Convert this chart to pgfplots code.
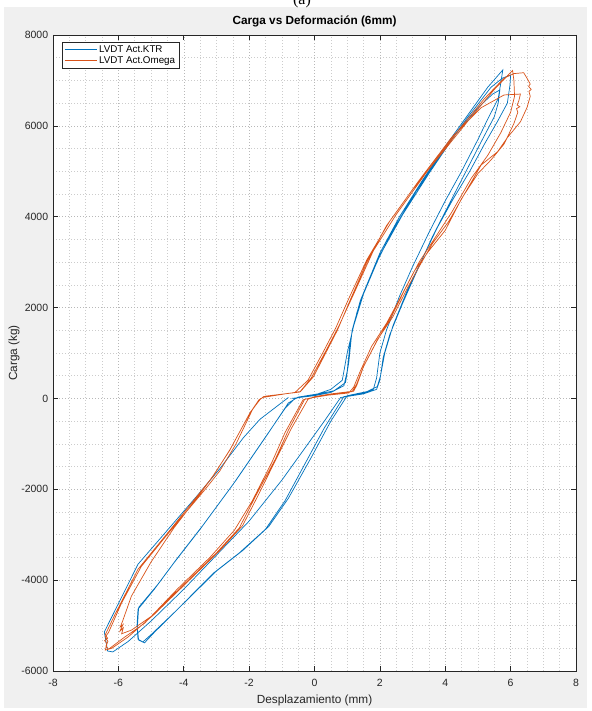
\documentclass[border=0pt]{standalone}
\usepackage{fontspec}
\setmainfont{Liberation Sans}
\newfontfamily\capfont{Liberation Serif}
\usepackage{pgfplots}
\pgfplotsset{compat=1.18}
\definecolor{ktr}{RGB}{0,114,189}
\definecolor{omega}{RGB}{217,83,25}
\definecolor{axgray}{RGB}{38,38,38}
\definecolor{figbg}{RGB}{240,240,240}

\begin{document}
\begin{tikzpicture}[x=1pt,y=1pt]
% figure canvas
\fill[white] (0,0) rectangle (591,711);
\fill[figbg] (4,3) rectangle (587,704);
\node[font=\capfont\fontsize{16}{18}\selectfont, anchor=base, inner sep=0pt] at (302,706.5) {(a)};
\begin{axis}[
  at={(53pt,40pt)}, anchor=south west,
  scale only axis, width=523pt, height=636pt,
  xmin=-8, xmax=8, ymin=-6000, ymax=8000,
  xtick={-8,-6,...,8}, ytick={-6000,-4000,...,8000},
  minor x tick num=3, minor y tick num=3,
  grid=both,
  major grid style={black!28, dash pattern=on 1pt off 2pt, line width=0.5pt},
  minor grid style={black!20, dash pattern=on 1pt off 2pt, line width=0.5pt},
  tick align=inside, major tick length=5pt, minor tick length=0pt,
  axis line style={axgray, line width=0.6pt},
  tick style={axgray, line width=0.6pt},
  axis background/.style={fill=white},
  scaled y ticks=false, scaled x ticks=false,
  /pgf/number format/assume math mode=true,
  /pgf/number format/1000 sep={},
  ticklabel style={font=\fontsize{10.5}{12}\selectfont, text=axgray},
  xticklabel style={anchor=base, yshift=-16pt},
  yticklabel style={anchor=east, xshift=-1.3pt},
  title={Carga vs Deformación (6mm)},
  title style={font=\bfseries\fontsize{11.8}{13}\selectfont, text=black, at={(rel axis cs:0.5,1)}, anchor=base, yshift=4pt},
  xlabel={Desplazamiento (mm)},
  xlabel style={font=\fontsize{11.8}{13}\selectfont, text=axgray, at={(rel axis cs:0.5,0)}, anchor=base, yshift=-32.5pt},
  ylabel={Carga (kg)},
  ylabel style={font=\fontsize{11.8}{13}\selectfont, text=axgray, at={(rel axis cs:0,0.5)}, anchor=center, yshift=39pt},
  legend style={at={(rel axis cs:0,1)}, anchor=north west, xshift=9pt, yshift=-7pt,
    draw=axgray, line width=0.5pt, fill=white, font=\fontsize{9.8}{11}\selectfont,
    inner xsep=2pt, inner ysep=1.5pt, row sep=-1.5pt},
  legend cell align=left,
  legend image code/.code={\draw[#1, line width=0.8pt] (0pt,0pt) -- (32pt,0pt);},
]
% LVDT Act.KTR
\addplot[ktr, line width=0.7pt] coordinates {
(-0.7,0) (0.0,60) (0.5,130) (0.9,280) (1.0,600) (1.1,1300) (1.3,1900) (1.6,2500) (2.0,3200) (2.6,4000) (3.3,4800) (4.0,5550) (4.7,6250) (5.3,6850) (5.76,7230)
(5.7,6950) (5.62,6600) (5.3,6150) (5.0,5700) (4.5,5000) (4.0,4350) (3.5,3650) (3.0,2900) (2.6,2250) (2.2,1500) (2.0,1000) (1.9,450) (1.8,200) (1.5,120) (1.2,80) (0.9,40)
(0.3,-650) (-0.3,-1450) (-0.9,-2250) (-1.5,-2880) (-2.3,-3400) (-3.1,-3850) (-4.2,-4650) (-5.0,-5200) (-5.25,-5360)
(-5.4,-5300) (-5.43,-5000) (-5.4,-4640) (-4.9,-4200) (-4.3,-3620) (-3.5,-2880) (-2.5,-1900) (-1.5,-850) (-0.9,-220) (-0.6,0)
(0.0,80) (0.6,170) (0.95,350) (1.05,800) (1.15,1500) (1.4,2150) (1.8,2850) (2.4,3700) (3.1,4550) (3.9,5400) (4.7,6200) (5.4,6850) (5.75,7050) (6.0,7120)
(5.98,6900) (5.9,6500) (5.6,6100) (5.2,5600) (4.75,5000) (4.25,4400) (3.75,3750) (3.25,3000) (2.85,2400) (2.4,1600) (2.15,1000) (2.02,500) (1.92,260) (1.6,150) (1.0,60)
(0.5,-500) (-0.1,-1300) (-0.8,-2200) (-1.4,-2820) (-2.2,-3350) (-3.0,-3800) (-4.1,-4580) (-4.9,-5150) (-5.2,-5380)
(-5.38,-5320) (-5.42,-5050) (-5.38,-4600) (-4.8,-4100) (-4.2,-3520) (-3.4,-2780) (-2.4,-1800) (-1.4,-750) (-0.8,-100) (-0.5,30)
(0.1,100) (0.5,200) (0.85,400) (1.0,1000) (1.2,1600) (1.5,2300) (2.0,3150) (2.7,4050) (3.5,4950) (4.3,5800) (5.0,6400) (5.45,6700) (5.67,6790)
(5.62,6500) (5.5,6200) (5.1,5650) (4.6,4950) (4.1,4250) (3.6,3550) (3.1,2750) (2.7,2100) (2.3,1400) (2.1,900) (2.0,400) (1.9,200) (1.5,100) (0.8,20)
(0.3,-500) (-0.3,-1100) (-1.0,-1800) (-2.0,-2700) (-3.0,-3450) (-4.0,-4200) (-5.0,-4900) (-5.7,-5350) (-6.17,-5580) (-6.33,-5560)
(-6.43,-5140) (-5.4,-3650) (-4.5,-2900) (-3.6,-2150) (-2.9,-1550) (-2.17,-860) (-1.67,-460) (-0.8,20)
};
% LVDT Act.Omega
\addplot[omega, line width=0.7pt] coordinates {
(-1.6,20) (-0.9,100) (-0.43,150) (-0.03,480) (0.4,1080) (0.7,1500) (1.1,2180) (1.6,3000) (2.2,3800) (3.0,4600) (3.9,5400) (4.8,6200) (5.5,6800) (6.06,7220)
(6.1,7000) (6.12,6650) (6.0,6300) (5.7,5850) (5.3,5350) (4.8,4850) (4.2,4100) (3.7,3550) (3.2,3000) (2.8,2450) (2.35,1800) (1.9,1250) (1.5,700) (1.28,300) (1.15,150)
(0.6,90) (0.0,30) (-0.3,-20)
(-0.8,-700) (-1.2,-1340) (-1.8,-2150) (-2.3,-2850) (-3.0,-3400) (-4.0,-4100) (-5.0,-4800) (-5.6,-5100) (-5.9,-5180)
(-5.85,-5050) (-5.95,-5120) (-5.86,-4980) (-5.94,-5030) (-5.87,-4900)
(-5.6,-4350) (-5.0,-3600) (-4.3,-2850) (-3.5,-2100) (-3.1,-1700) (-2.6,-1150) (-2.0,-350) (-1.7,-30) (-1.5,50)
(-0.45,140) (-0.1,450) (0.35,1050) (0.75,1600) (1.2,2300) (1.8,3250) (2.5,4050) (3.4,4950) (4.4,5900) (5.2,6600) (5.8,7050) (6.1,7150) (6.4,7170)
(6.5,7050) (6.6,6920) (6.55,6870) (6.63,6800) (6.56,6760) (6.6,6650) (6.5,6400) (6.3,6090) (5.9,5740) (5.6,5430) (5.1,5140) (4.7,4640) (4.1,3890) (3.6,3400) (3.2,2900) (2.85,2440) (2.4,1800) (1.93,1300) (1.5,700) (1.3,300) (1.2,160)
(0.5,100) (0.0,40) (-0.2,-20)
(-0.7,-650) (-1.15,-1300) (-1.7,-2100) (-2.2,-2800) (-2.9,-3350) (-3.9,-4050) (-4.9,-4750) (-5.7,-5250) (-6.2,-5500) (-6.4,-5540)
(-6.35,-5400) (-6.42,-5330) (-6.33,-5280) (-6.4,-5200)
(-6.1,-4750) (-5.4,-3760) (-4.4,-2880) (-3.5,-2070) (-3.1,-1710) (-2.58,-1120) (-1.96,-300) (-1.66,-20) (-1.56,40)
(-0.6,130) (-0.2,400) (0.25,1000) (0.65,1550) (1.05,2200) (1.6,3050) (2.3,3900) (3.2,4800) (4.2,5750) (5.1,6400) (5.8,6680) (6.3,6700)
(6.25,6550) (6.2,6460) (6.28,6420) (6.18,6380) (6.22,6300) (6.1,6050) (5.8,5600) (5.4,5250) (5.0,4950) (4.5,4400) (4.0,3700) (3.5,3250) (3.05,2800) (2.65,2250) (2.2,1650) (1.75,1150) (1.4,600) (1.2,250) (1.05,120)
(0.4,70) (-0.1,10) (-0.35,-30)
(-0.9,-750) (-1.3,-1400) (-1.9,-2250) (-2.45,-2900) (-3.2,-3500) (-4.2,-4200) (-5.2,-4950) (-5.8,-5250) (-6.3,-5520) (-6.38,-5450)
(-6.32,-5350) (-6.4,-5250) (-6.3,-5150)
(-5.9,-4500) (-5.3,-3700) (-4.35,-2860) (-3.4,-2050) (-2.9,-1600) (-2.4,-1000) (-1.9,-250) (-1.65,0)
};
\legend{LVDT Act.KTR, LVDT Act.Omega}
\end{axis}
\pgfresetboundingbox
\path[use as bounding box] (0,0) rectangle (591,711);
\end{tikzpicture}
\end{document}
